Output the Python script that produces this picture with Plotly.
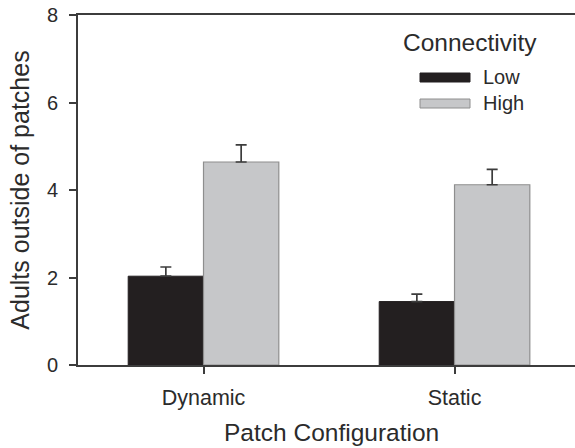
import plotly.graph_objects as go

categories = ["Dynamic", "Static"]
low_values = [2.03, 1.45]
low_err = [0.21, 0.17]
high_values = [4.64, 4.12]
high_err = [0.39, 0.35]
y_ticks = [0, 2, 4, 6, 8]

FONT = "Liberation Sans, Arial, sans-serif"
TXT = "#2b2b2b"
LOW_C = "#231f20"
HIGH_C = "#c6c7c9"
AX = "#3c3c3c"

W, H = 575, 448
ML, MR, MT, MB = 78, 0, 15, 83


def px(x):
    return (x - ML) / (W - ML - MR)


def py(y):
    return (H - MB - y) / (H - MT - MB)


fig = go.Figure()
fig.add_trace(go.Bar(
    x=categories, y=low_values, name="Low",
    marker=dict(color=LOW_C, line=dict(color=LOW_C, width=1)),
    error_y=dict(type="data", array=low_err, arrayminus=[0, 0], symmetric=False,
                 color=AX, thickness=1.7, width=5.5),
    showlegend=False,
))
fig.add_trace(go.Bar(
    x=categories, y=high_values, name="High",
    marker=dict(color=HIGH_C, line=dict(color="#8e8e8e", width=1.2)),
    error_y=dict(type="data", array=high_err, arrayminus=[0, 0], symmetric=False,
                 color=AX, thickness=1.7, width=5.5),
    showlegend=False,
))

fig.update_layout(
    width=W, height=H,
    margin=dict(l=ML, r=MR, t=MT, b=MB),
    paper_bgcolor="white", plot_bgcolor="white",
    barmode="group", bargap=0.4, bargroupgap=0,
    font=dict(family=FONT, color=TXT, size=20),
    xaxis=dict(
        range=[-0.5, 1.48], showline=True, linecolor=AX, linewidth=1.6, mirror=True,
        ticks="outside", ticklen=7, tickwidth=1.5, tickcolor=AX, automargin=False,
        ticklabelstandoff=5,
        tickfont=dict(size=21.5, color=TXT), showgrid=False, zeroline=False,
    ),
    yaxis=dict(
        range=[0, 8], tickvals=y_ticks, showline=True, linecolor=AX, linewidth=1.6,
        ticks="outside", ticklen=7, tickwidth=1.5, tickcolor=AX, automargin=False,
        ticklabelstandoff=7,
        tickfont=dict(size=20, color=TXT), showgrid=False, zeroline=False,
        title=dict(text="Adults outside of patches", font=dict(size=25, color=TXT), standoff=10),
    ),
)

# X axis title placed as annotation
fig.add_annotation(x=px(331), y=py(432), xref="paper", yref="paper",
                   text="Patch Configuration", showarrow=False,
                   font=dict(size=24.5, color=TXT), xanchor="center", yanchor="middle")

# Legend (drawn manually to get wide rectangular swatches)
fig.add_annotation(x=px(470), y=py(42), xref="paper", yref="paper",
                   text="Connectivity", showarrow=False, font=dict(size=24.5, color=TXT),
                   xanchor="center", yanchor="middle")
fig.add_shape(type="rect", xref="paper", yref="paper",
              x0=px(420), x1=px(470), y0=py(82), y1=py(73),
              fillcolor=LOW_C, line=dict(color=LOW_C, width=1))
fig.add_shape(type="rect", xref="paper", yref="paper",
              x0=px(420), x1=px(470), y0=py(108), y1=py(99),
              fillcolor=HIGH_C, line=dict(color="#8e8e8e", width=1))
fig.add_annotation(x=px(482), y=py(77), xref="paper", yref="paper",
                   text="Low", showarrow=False, font=dict(size=20, color=TXT),
                   xanchor="left", yanchor="middle", borderpad=0)
fig.add_annotation(x=px(482), y=py(103), xref="paper", yref="paper",
                   text="High", showarrow=False, font=dict(size=20, color=TXT),
                   xanchor="left", yanchor="middle", borderpad=0)

fig.write_html("out.html", config={"displayModeBar": False},
               post_script="document.body.style.margin='0px';")
